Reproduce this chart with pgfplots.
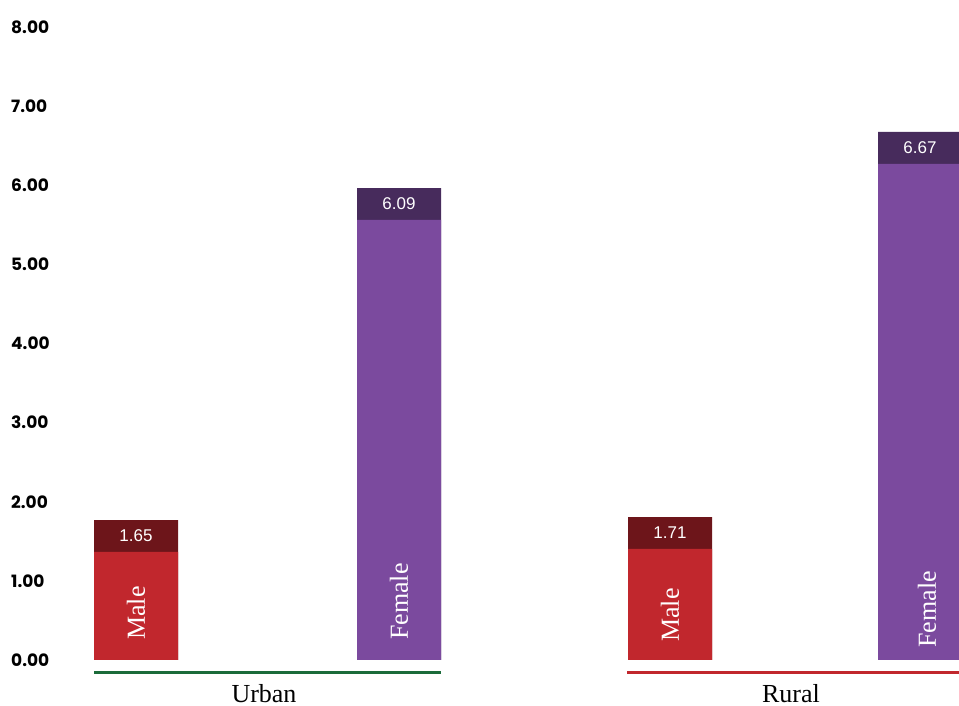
\documentclass[border=0pt]{standalone}
\usepackage{fontspec}
\setmainfont{Liberation Serif}
\newfontfamily\valfont{Liberation Sans}
\newfontfamily\tickfont{Poppins}
\usepackage{pgfplots}
\pgfplotsset{compat=1.18}
\usepackage{pgfplotstable}

\definecolor{mred}{HTML}{C1272D}
\definecolor{dred}{HTML}{6D151A}
\definecolor{mpur}{HTML}{7B4A9E}
\definecolor{dpur}{HTML}{472B5C}
\definecolor{lgreen}{HTML}{1B6B3A}

% bar tops as drawn (full height incl. dark band) and light part heights
\pgfplotstableread{
x y
136 1.769
670 1.807
}\maletop
\pgfplotstableread{
x y
136 1.365
670 1.403
}\malebody
\pgfplotstableread{
x y
399 5.965
920 6.673
}\femtop
\pgfplotstableread{
x y
399 5.561
920 6.269
}\fembody
\pgfplotstableread{
x y label
136 1.567 1.65
399 5.763 6.09
670 1.605 1.71
920 6.471 6.67
}\vallabels
\pgfplotstableread{
x y label
136 0.253 Male
399 0.253 Female
670 0.228 Male
927 0.152 Female
}\genlabels

\begin{document}
\begin{tikzpicture}
\begin{axis}[
  at={(0,0)}, anchor=south west,
  scale only axis,
  width=959bp, height=706bp,
  xmin=0, xmax=959,
  ymin=-0.5814, ymax=8.3412,
  axis line style={draw=none},
  major tick length=0pt,
  ytick={0,1,2,3,4,5,6,7,8},
  /pgf/number format/assume math mode=true,
  yticklabel={\pgfmathprintnumber[fixed,fixed zerofill,precision=2]{\tick}},
  yticklabel style={anchor=west, xshift=11bp, inner sep=0pt, font=\tickfont\bfseries\fontsize{17bp}{19bp}\selectfont},
  xtick={264,791},
  xticklabels={Urban,Rural},
  xticklabel style={anchor=base, yshift=4bp, inner sep=0pt, font=\fontsize{26bp}{30bp}\selectfont},
]
\addplot[ybar, bar width=84, bar shift=0pt, fill=dred, draw=none] table[x=x,y=y]{\maletop};
\addplot[ybar, bar width=84, bar shift=0pt, fill=mred, draw=none] table[x=x,y=y]{\malebody};
\addplot[ybar, bar width=84, bar shift=0pt, fill=dpur, draw=none] table[x=x,y=y]{\femtop};
\addplot[ybar, bar width=84, bar shift=0pt, fill=mpur, draw=none] table[x=x,y=y]{\fembody};
\addplot[draw=none, mark=none, nodes near coords, point meta=explicit symbolic,
  every node near coord/.append style={anchor=center, text=white, inner sep=0pt,
    font=\valfont\fontsize{17bp}{20bp}\selectfont}]
  table[x=x,y=y,meta=label]{\vallabels};
\addplot[draw=none, mark=none, nodes near coords, point meta=explicit symbolic,
  every node near coord/.append style={rotate=90, anchor=west, text=white, inner sep=0pt,
    font=\fontsize{26bp}{30bp}\selectfont}]
  table[x=x,y=y,meta=label]{\genlabels};
\addplot[lgreen, line width=3bp, mark=none] coordinates {(94,-0.152) (441,-0.152)};
\addplot[mred, line width=3bp, mark=none] coordinates {(627,-0.152) (959,-0.152)};
\end{axis}
\pgfresetboundingbox
\path[use as bounding box] (0,0) rectangle (959bp,706bp);
\end{tikzpicture}
\end{document}
